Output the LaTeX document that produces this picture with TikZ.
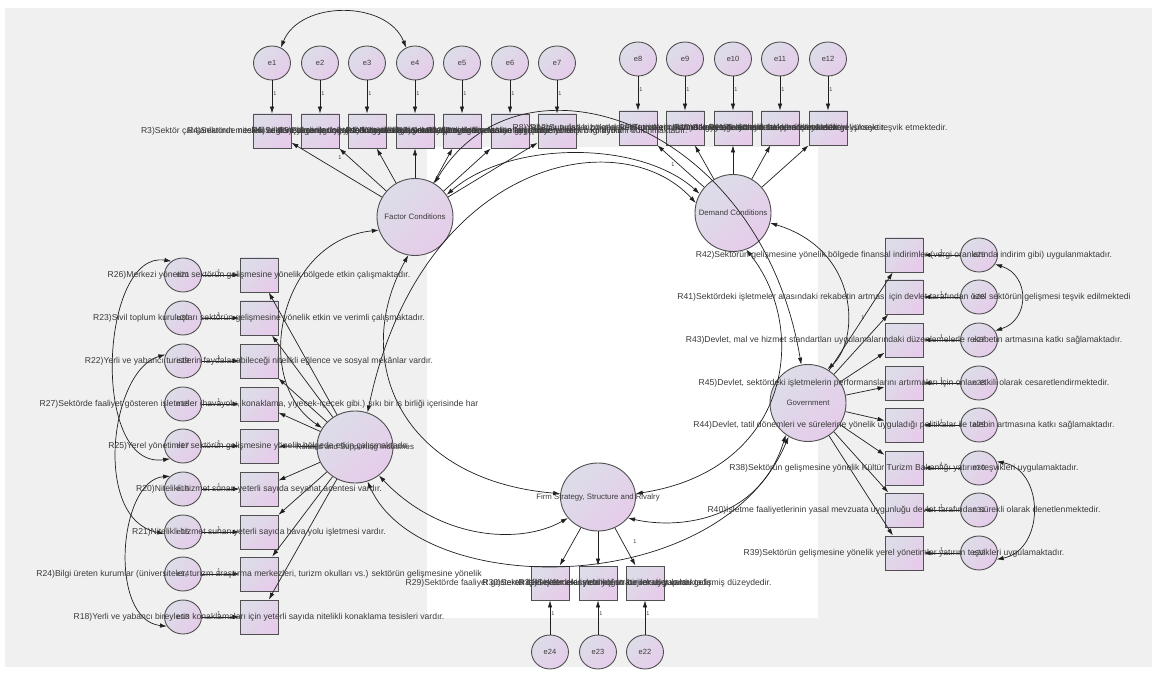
\documentclass[tikz,border=0pt]{standalone}
\usepackage{fontspec}
\setsansfont{Liberation Sans}
\usepackage{tikz}
\usetikzlibrary{shapes.geometric}
\usetikzlibrary{arrows.meta}
\definecolor{Grund}{HTML}{F0F0F0}
\definecolor{FuellA}{HTML}{DCDDE8}
\definecolor{FuellB}{HTML}{E6CCEA}
\definecolor{Rand}{HTML}{505050}
\definecolor{Linie}{HTML}{202020}
\definecolor{Schrift}{HTML}{3A3A3A}
\tikzset{
  Latent/.style={ellipse, draw=Rand, line width=.9pt, top color=FuellA, bottom color=FuellB, shading angle=45, minimum width=76pt, minimum height=77pt, inner sep=0pt}, % latente Variablen
  Fehler/.style={ellipse, draw=Rand, line width=.9pt, top color=FuellA, bottom color=FuellB, shading angle=45, minimum width=37pt, minimum height=34pt, inner sep=0pt, text=Schrift, font=\sffamily\fontsize{7.5}{8}\selectfont}, % Fehlerterme
  Item/.style={rectangle, draw=Rand, line width=.9pt, top color=FuellA, bottom color=FuellB, shading angle=45, minimum width=38pt, minimum height=34pt, inner sep=0pt}, % Indikatoren
  ItemText/.style={text=Schrift, inner sep=0pt, font=\sffamily\fontsize{8.6}{10}\selectfont},
  LatentText/.style={text=Schrift, inner sep=0pt, font=\sffamily\fontsize{7.8}{9}\selectfont},
  Pfad/.style={->, line width=.7pt, draw=Linie},
  Kov/.style={<->, line width=.7pt, draw=Linie},
  Eins/.style={text=Schrift, inner sep=1pt, font=\sffamily\fontsize{5.5}{6}\selectfont}
}

\begin{document}
\begin{tikzpicture}[x=1pt, y=-1pt,
>={Latex[length=7pt,width=4.5pt]} % Pfeilspitzen
]
\useasboundingbox (0,0) rectangle (1152,679);

%Hintergrund
\fill[Grund] (5,8) rectangle (1152,667);
\fill[white] (427,147) rectangle (818,618);

%Latente Variablen
\node[Latent] (FC) at (415,217) {};
\node[Latent] (DC) at (733,213) {};
\node[Latent, minimum height=72pt] (RSI) at (355,447) {};
\node[Latent] (GOV) at (808,403) {};
\node[Latent, minimum width=75pt, minimum height=68pt] (FSSR) at (598,497) {};

%Indikatoren oben links
\node[Item] (R3) at (272,131) {};
\node[Item] (R4) at (320,131) {};
\node[Item] (R6) at (367,131) {};
\node[Item] (R5) at (415,131) {};
\node[Item] (R1) at (462,131) {};
\node[Item] (R2) at (510,131) {};
\node[Item] (R13) at (557,131) {};
\node[Fehler] (e1) at (272,63) {e1};
\node[Fehler] (e2) at (320,63) {e2};
\node[Fehler] (e3) at (367,63) {e3};
\node[Fehler] (e4) at (415,63) {e4};
\node[Fehler] (e5) at (462,63) {e5};
\node[Fehler] (e6) at (510,63) {e6};
\node[Fehler] (e7) at (557,63) {e7};

%Indikatoren oben rechts
\node[Item] (R8) at (638,128) {};
\node[Item] (R12) at (685,128) {};
\node[Item] (R9) at (733,128) {};
\node[Item] (R10) at (780,128) {};
\node[Item] (R11) at (828,128) {};
\node[Fehler] (e8) at (638,59) {e8};
\node[Fehler] (e9) at (685,59) {e9};
\node[Fehler] (e10) at (733,59) {e10};
\node[Fehler] (e11) at (780,59) {e11};
\node[Fehler] (e12) at (828,59) {e12};

%Indikatoren links
\node[Item] (R26) at (259,275) {};
\node[Item] (R23) at (259,318) {};
\node[Item] (R22) at (259,361) {};
\node[Item] (R27) at (259,404) {};
\node[Item] (R25) at (259,446) {};
\node[Item] (R20) at (259,489) {};
\node[Item] (R21) at (259,532) {};
\node[Item] (R24) at (259,574) {};
\node[Item] (R18) at (259,617) {};
\node[Fehler] (e21) at (183,275) {e21};
\node[Fehler] (e20) at (183,318) {e20};
\node[Fehler] (e19) at (183,361) {e19};
\node[Fehler] (e18) at (183,404) {e18};
\node[Fehler] (e17) at (183,446) {e17};
\node[Fehler] (e16) at (183,489) {e16};
\node[Fehler] (e15) at (183,532) {e15};
\node[Fehler] (e14) at (183,574) {e14};
\node[Fehler] (e13) at (183,617) {e13};

%Indikatoren rechts
\node[Item] (R42) at (904,255) {};
\node[Item] (R41) at (904,297) {};
\node[Item] (R43) at (904,340) {};
\node[Item] (R45) at (904,383) {};
\node[Item] (R44) at (904,425) {};
\node[Item] (R38) at (904,468) {};
\node[Item] (R40) at (904,510) {};
\node[Item] (R39) at (904,553) {};
\node[Fehler] (e25) at (979,255) {e25};
\node[Fehler] (e26) at (979,297) {e26};
\node[Fehler] (e27) at (979,340) {e27};
\node[Fehler] (e28) at (979,383) {e28};
\node[Fehler] (e29) at (979,425) {e29};
\node[Fehler] (e30) at (979,468) {e30};
\node[Fehler] (e31) at (979,510) {e31};
\node[Fehler] (e32) at (979,553) {e32};

%Indikatoren unten
\node[Item] (R29) at (550,583) {};
\node[Item] (R30) at (598,583) {};
\node[Item] (R31) at (645,583) {};
\node[Fehler] (e24) at (550,652) {e24};
\node[Fehler] (e23) at (598,652) {e23};
\node[Fehler] (e22) at (645,652) {e22};

%Ladungen
\foreach \i in {R3,R4,R6,R5,R1,R2,R13} \draw[Pfad] (FC) -- (\i);
\foreach \i in {R8,R12,R9,R10,R11} \draw[Pfad] (DC) -- (\i);
\foreach \i in {R26,R23,R22,R27,R25,R20,R21,R24,R18} \draw[Pfad] (RSI) -- (\i);
\foreach \i in {R42,R41,R43,R45,R44,R38,R40,R39} \draw[Pfad] (GOV) -- (\i);
\foreach \i in {R29,R30,R31} \draw[Pfad] (FSSR) -- (\i);
\node[Eins] (lFC) at (340,158) {1};
\node[Eins] (lDC) at (673,165) {1};
\node[Eins] (lGOV) at (863,318) {1};
\node[Eins] (lFSSR) at (635,542) {1};

%Fehlerpfade
\foreach \e/\i in {e1/R3,e2/R4,e3/R6,e4/R5,e5/R1,e6/R2,e7/R13,e8/R8,e9/R12,e10/R9,e11/R10,e12/R11}
  \draw[Pfad] (\e) -- node[Eins, right, pos=.4]{1} (\i);
\foreach \e/\i in {e21/R26,e20/R23,e19/R22,e18/R27,e17/R25,e16/R20,e15/R21,e14/R24,e13/R18}
  \draw[Pfad] (\e) -- node[Eins, above, pos=.45]{1} (\i);
\foreach \e/\i in {e25/R42,e26/R41,e27/R43,e28/R45,e29/R44,e30/R38,e31/R40,e32/R39}
  \draw[Pfad] (\e) -- node[Eins, above, pos=.5]{1} (\i);
\foreach \e/\i in {e24/R29,e23/R30,e22/R31}
  \draw[Pfad] (\e) -- node[Eins, right, pos=.6]{1} (\i);

%Fehlerkovarianzen
\draw[Kov] (e1.60) .. controls (300,0) and (387,0) .. (e4.120);
\draw[Kov] (e21.130) .. controls (100,250) and (90,470) .. (e17.225);
\draw[Kov] (e19.160) .. controls (110,370) and (92,520) .. (e15.185);
\draw[Kov] (e16.135) .. controls (118,480) and (108,620) .. (e13.210);
\draw[Kov] (e25.-30) .. controls (1030,275) and (1030,320) .. (e27.30);
\draw[Kov] (e30.20) .. controls (1045,470) and (1045,550) .. (e32.-20);

%Kovarianzen der latenten Variablen
\draw[Kov] (FC.35) .. controls (510,140) and (640,140) .. (DC.150);
\draw[Kov] (RSI.70) .. controls (420,160) and (620,120) .. (DC.165);
\draw[Kov] (FC.60) .. controls (520,40) and (760,120) .. (GOV.100);
\draw[Kov] (RSI.150) .. controls (250,380) and (280,240) .. (FC.200);
\draw[Kov] (FC.260) .. controls (350,360) and (400,480) .. (FSSR.175);
\draw[Kov] (RSI.290) .. controls (420,600) and (720,600) .. (GOV.240);
\draw[Kov] (RSI.310) .. controls (440,540) and (520,545) .. (FSSR.215);
\draw[Kov] (DC.-15) .. controls (860,250) and (860,340) .. (GOV.60);
\draw[Kov] (DC.290) .. controls (810,330) and (790,470) .. (FSSR.5);
\draw[Kov] (GOV.235) .. controls (760,520) and (680,530) .. (FSSR.325);

%Beschriftungen latent
\node[LatentText] (tFC) at (FC) {Factor Conditions};
\node[LatentText] (tDC) at (DC) {Demand Conditions};
\node[LatentText] (tRSI) at (RSI) {Related and Supporting Industries};
\node[LatentText] (tGOV) at (GOV) {Government};
\node[LatentText] (tFSSR) at (FSSR) {Firm Strategy, Structure and Rivalry};

%Beschriftungen Indikatoren
\node[ItemText] (tR3) at (R3) {R3)Sektör çalışanlarının mesleki bilgi ve becerileri yeterli düzeydedir.};
\node[ItemText] (tR4) at (R4) {R4)Sektörde nitelikli ve deneyimli işgücü yeterli sayıda bulunmaktadır.};
\node[ItemText] (tR6) at (R6) {R6)Sektör çalışanlarının yabancı dil bilgisi yeterli düzeydedir.};
\node[ItemText] (tR5) at (R5) {R5)Bölgenin doğal ve kültürel kaynakları turizmin gelişmesine uygundur.};
\node[ItemText] (tR1) at (R1) {R1)Bölgedeki ulaşım altyapısı turizm faaliyetleri için yeterlidir.};
\node[ItemText] (tR2) at (R2) {R2)Sektöre yönelik finansman kaynaklarına erişim kolaydır.};
\node[ItemText] (tR13) at (R13) {R13)Bölgede sektörün gelişimine yönelik bilgi birikimi bulunmaktadır.};
\node[ItemText] (tR8) at (R8) {R8)Yabancı turistler bölgedeki işletmelerin hizmetlerini almaktadır.};
\node[ItemText] (tR12) at (R12) {R12)Sunulan hizmetler yerli turistler tarafından yeterli düzeyde talep edilmektedir.};
\node[ItemText] (tR9) at (R9) {R9)Turistlerin hizmet kalitesine yönelik beklentileri yüksektir.};
\node[ItemText] (tR10) at (R10) {R10)Bölgeye gelen turistlerin harcama düzeyi yüksektir.};
\node[ItemText] (tR11) at (R11) {R11)Turistlerin talepleri işletmeleri gelişmeye teşvik etmektedir.};
\node[ItemText] (tR26) at (R26) {R26)Merkezi yönetim sektörün gelişmesine yönelik bölgede etkin çalışmaktadır.};
\node[ItemText] (tR23) at (R23) {R23)Sivil toplum kuruluşları sektörün gelişmesine yönelik etkin ve verimli çalışmaktadır.};
\node[ItemText] (tR22) at (R22) {R22)Yerli ve yabancı turistlerin faydalanabileceği nitelikli eğlence ve sosyal mekânlar vardır.};
\node[ItemText] (tR27) at (R27) {R27)Sektörde faaliyet gösteren işletmeler (havayolu, konaklama, yiyecek-içecek gibi.) sıkı bir iş birliği içerisinde har};
\node[ItemText] (tR25) at (R25) {R25)Yerel yönetimler sektörün gelişmesine yönelik bölgede etkin çalışmaktadır.};
\node[ItemText] (tR20) at (R20) {R20)Nitelikli hizmet sunan yeterli sayıda seyahat acentesi vardır.};
\node[ItemText] (tR21) at (R21) {R21)Nitelikli hizmet sunan yeterli sayıda hava yolu işletmesi vardır.};
\node[ItemText] (tR24) at (R24) {R24)Bilgi üreten kurumlar (üniversiteler, turizm araştırma merkezleri, turizm okulları vs.) sektörün gelişmesine yönelik};
\node[ItemText] (tR18) at (R18) {R18)Yerli ve yabancı bireylerin konaklamaları için yeterli sayıda nitelikli konaklama tesisleri vardır.};
\node[ItemText] (tR42) at (R42) {R42)Sektörün gelişmesine yönelik bölgede finansal indirimler (vergi oranlarında indirim gibi) uygulanmaktadır.};
\node[ItemText] (tR41) at (R41) {R41)Sektördeki işletmeler arasındaki rekabetin artması için devlet tarafından özel sektörün gelişmesi teşvik edilmektedi};
\node[ItemText] (tR43) at (R43) {R43)Devlet, mal ve hizmet standartları uygulamalarındaki düzenlemelerle rekabetin artmasına katkı sağlamaktadır.};
\node[ItemText] (tR45) at (R45) {R45)Devlet, sektördeki işletmelerin performanslarını artırmaları için onları etkili olarak cesaretlendirmektedir.};
\node[ItemText] (tR44) at (R44) {R44)Devlet, tatil dönemleri ve sürelerine yönelik uyguladığı politikalar ile talebin artmasına katkı sağlamaktadır.};
\node[ItemText] (tR38) at (R38) {R38)Sektörün gelişmesine yönelik Kültür Turizm Bakanlığı yatırım teşvikleri uygulamaktadır.};
\node[ItemText] (tR40) at (R40) {R40)İşletme faaliyetlerinin yasal mevzuata uygunluğu devlet tarafından sürekli olarak denetlenmektedir.};
\node[ItemText] (tR39) at (R39) {R39)Sektörün gelişmesine yönelik yerel yönetimler yatırım teşvikleri uygulamaktadır.};
\node[ItemText] (tR29) at (R29) {R29)Sektörde faaliyet gösteren işletmeler arasında yoğun bir rekabet vardır.};
\node[ItemText] (tR30) at (R30) {R30)Sektördeki işletmeler yenilikçi stratejiler uygulamaktadır.};
\node[ItemText] (tR31) at (R31) {R31)Sektördeki işletmelerin kurumsal yapıları gelişmiş düzeydedir.};

\end{tikzpicture}
\end{document}
